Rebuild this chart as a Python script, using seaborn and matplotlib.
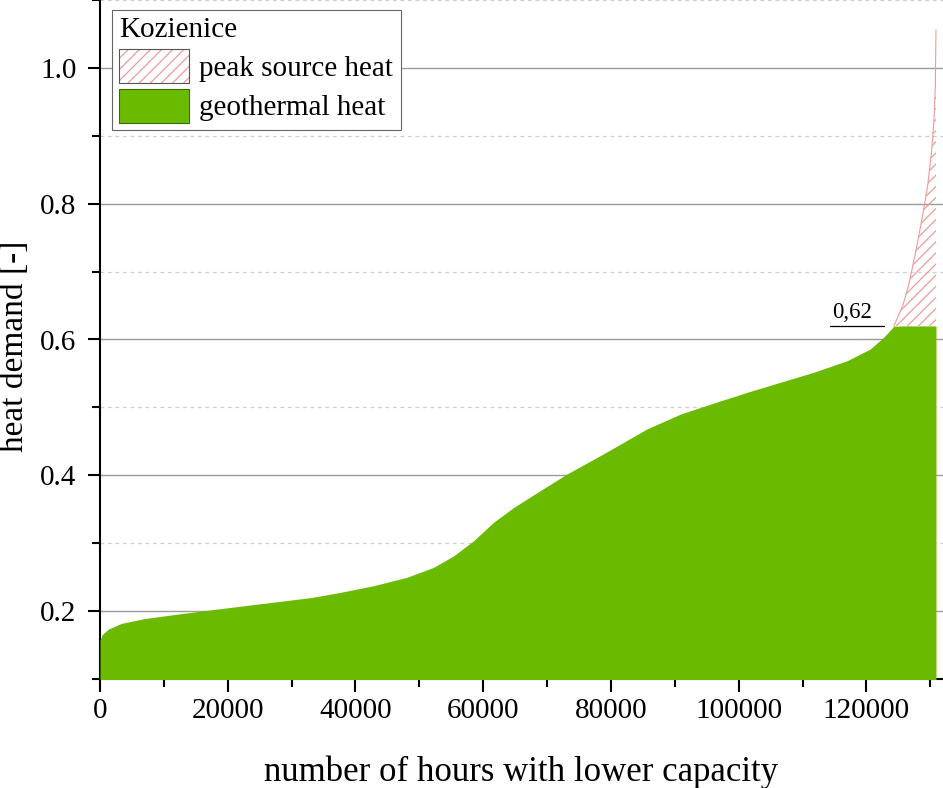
import numpy as np
import matplotlib.pyplot as plt
import seaborn as sns
from matplotlib.patches import Patch
from matplotlib.ticker import MultipleLocator, FormatStrFormatter, StrMethodFormatter

sns.set_style("ticks")
plt.rcParams['font.family'] = ['Liberation Serif', 'DejaVu Serif']
plt.rcParams['text.color'] = 'black'
plt.rcParams['axes.labelcolor'] = 'black'
plt.rcParams['xtick.color'] = 'black'
plt.rcParams['ytick.color'] = 'black'

# DATA
hours = np.array([0, 300, 1300, 3400, 7000, 12200, 17500, 25300, 33100, 37600,
                  42800, 48000, 52200, 55400, 58500, 61600, 64800, 68900, 73100,
                  78300, 80400, 85600, 90900, 96100, 101300, 106500, 111700,
                  117000, 120600, 122700, 124300, 125700, 126600, 127700, 128700,
                  129600, 130200, 130600, 130800, 130900])
demand = np.array([0.157, 0.165, 0.1735, 0.182, 0.189, 0.1956, 0.202, 0.211, 0.220, 0.2275,
                   0.2373, 0.2496, 0.2643, 0.2815, 0.3036, 0.3307, 0.3528, 0.3772, 0.4018,
                   0.4288, 0.440, 0.4681, 0.4902, 0.5064, 0.5221, 0.5369, 0.5516,
                   0.5688, 0.586, 0.6032, 0.6195, 0.650, 0.679, 0.728, 0.777,
                   0.827, 0.876, 0.925, 0.974, 1.056])
geo_cap = 0.62
labels = ['peak source heat', 'geothermal heat']
site = 'Kozienice'

green = '#6abb00'
red = '#ef9a9a'
plt.rcParams['hatch.color'] = red
plt.rcParams['hatch.linewidth'] = 0.9

fig = plt.figure(figsize=(9.43, 7.88), dpi=100)
ax = fig.add_axes([100/943, 1 - 679/788, 843/943, 679/788])
ax.set_axisbelow(True)

# peak part of the curve (above the geothermal cap)
peak = demand >= geo_cap - 0.001
sns.lineplot(x=hours[peak], y=demand[peak], color=red, lw=0.8, ax=ax, zorder=2)
ax.fill_between(hours, geo_cap, demand, where=demand >= geo_cap, interpolate=True,
                facecolor='none', edgecolor=red, hatch='///', linewidth=0, zorder=1)
ax.fill_between(hours, 0, np.minimum(demand, geo_cap), color=green, lw=0, zorder=3)

# annotation of the geothermal cap
ax.plot([114300, 122800], [geo_cap, geo_cap], color='black', lw=0.9, zorder=4)
ax.text(117800, 0.631, f'{geo_cap:.2f}'.replace('.', ','), ha='center', va='baseline',
        fontsize=16.5, zorder=4)

ax.set_xlim(0, 132000)
ax.set_ylim(0.1, 1.1)
ax.xaxis.set_major_locator(MultipleLocator(20000))
ax.xaxis.set_minor_locator(MultipleLocator(10000))
ax.yaxis.set_major_locator(MultipleLocator(0.2))
ax.yaxis.set_minor_locator(MultipleLocator(0.1))
ax.yaxis.set_major_formatter(FormatStrFormatter('%.1f'))
ax.xaxis.set_major_formatter(StrMethodFormatter('{x:.0f}'))

ax.yaxis.grid(True, which='major', color='#9a9a9a', lw=1.0, ls='-')
ax.yaxis.grid(True, which='minor', color='#cfcfcf', lw=0.9, ls=(0, (3, 3)))
ax.xaxis.grid(False)

sns.despine(ax=ax)
for s in ['left', 'bottom']:
    ax.spines[s].set_linewidth(1.5)
    ax.spines[s].set_color('black')
ax.tick_params(which='major', direction='out', length=9, width=1.5, labelsize=21)
ax.tick_params(which='minor', direction='out', length=5.5, width=1.5)
ax.tick_params(axis='y', which='major', pad=8)
ax.tick_params(axis='x', which='major', pad=5)

ax.set_xlabel('number of hours with lower capacity', fontsize=25)
ax.set_ylabel('heat demand [-]', fontsize=24)
ax.xaxis.set_label_coords(0.5, -0.112)
ax.yaxis.set_label_coords(-0.083, 0.49)

handles = [(Patch(facecolor='white', edgecolor=red, hatch='///', lw=0),
            Patch(facecolor='none', edgecolor='#555555', lw=0.8)),
           Patch(facecolor=green, edgecolor='#3d6a00', lw=0.8)]
leg = ax.legend(handles, labels, title=site, loc='upper left',
                bbox_to_anchor=(0.0142, 0.985), borderaxespad=0, fontsize=21,
                title_fontsize=21, alignment='left', frameon=True, fancybox=False,
                edgecolor='#666666', framealpha=1, handlelength=2.4, handleheight=1.4,
                handletextpad=0.35, borderpad=0.25, labelspacing=0.2)
leg.get_frame().set_linewidth(0.8)
leg.set_zorder(10)

fig.savefig('out.png', dpi=100)
